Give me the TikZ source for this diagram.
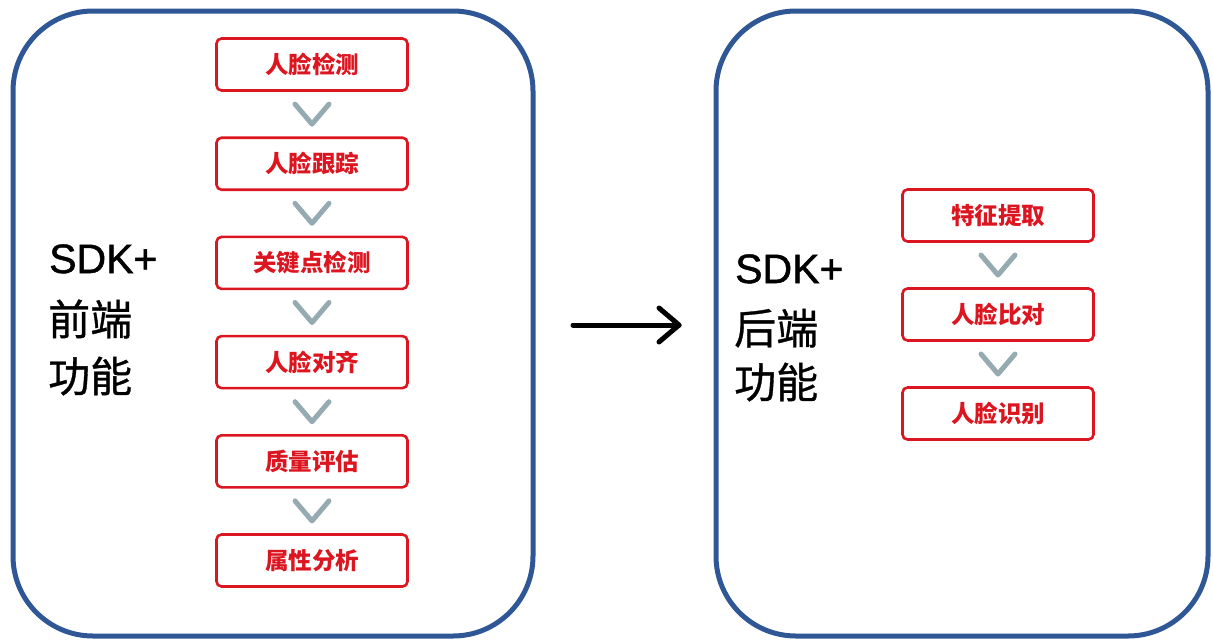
\documentclass[tikz,border=0pt]{standalone}
\usepackage{fontspec}
\usetikzlibrary{calc}
\setmainfont{Noto Sans CJK SC}
\newfontfamily\cjk{Noto Sans CJK SC}
\newfontfamily\cjkbig{Noto Sans CJK SC}[FakeBold=0.8]
\newfontfamily\latbig{Liberation Sans}[FakeBold=1.2]
\definecolor{frameblue}{RGB}{47,87,150}
\definecolor{stepred}{RGB}{220,22,32}
\definecolor{chevgray}{RGB}{150,170,178}
\tikzset{
  bigframe/.style={draw=frameblue, line width=5pt, rounded corners=80pt},
  stepbox/.style={draw=stepred, line width=2.6pt, rounded corners=5pt, minimum width=191pt, minimum height=52pt, inner sep=0pt, font=\cjk\bfseries\fontsize{23.5}{27}\selectfont, text=stepred},
  chev/.style={draw=chevgray, line width=5pt, line cap=round, line join=round},
  bigtext/.style={font=\cjkbig\fontsize{42}{48}\selectfont, anchor=base west, inner sep=0pt},
  sdktext/.style={font=\latbig\fontsize{41}{48}\selectfont, anchor=base west, inner sep=0pt},
}
\begin{document}
\begin{tikzpicture}[x=1pt,y=-1pt]
\useasboundingbox (0,0) rectangle (1213,641);
% frames
\draw[bigframe] (13,11) rectangle (533,636);
\draw[bigframe] (716,11) rectangle (1208,636);
% left steps
\node[stepbox] (l1) at (312,64.5) {人脸检测};
\node[stepbox] (l2) at (312,163.7) {人脸跟踪};
\node[stepbox] (l3) at (312,262.9) {关键点检测};
\node[stepbox] (l4) at (312,362.1) {人脸对齐};
\node[stepbox] (l5) at (312,461.3) {质量评估};
\node[stepbox] (l6) at (312,560.5) {属性分析};
\foreach \a/\b in {l1/l2,l2/l3,l3/l4,l4/l5,l5/l6}{
  \path ($(\a)!0.5!(\b)$) coordinate (m);
  \draw[chev] ([xshift=-17pt,yshift=10pt]m) -- ([yshift=-10pt]m) -- ([xshift=17pt,yshift=10pt]m);
}
% right steps
\node[stepbox] (r1) at (998,215.5) {特征提取};
\node[stepbox] (r2) at (998,314.5) {人脸比对};
\node[stepbox] (r3) at (998,413.5) {人脸识别};
\foreach \a/\b in {r1/r2,r2/r3}{
  \path ($(\a)!0.5!(\b)$) coordinate (m);
  \draw[chev] ([xshift=-17pt,yshift=10pt]m) -- ([yshift=-10pt]m) -- ([xshift=17pt,yshift=10pt]m);
}
% left title
\node[sdktext] (lt1) at (49,273) {SDK+};
\node[bigtext] (lt2) at (48,335) {前端};
\node[bigtext] (lt3) at (48,392) {功能};
% right title
\node[sdktext] (rt1) at (735,283) {SDK+};
\node[bigtext] (rt2) at (734,344) {后端};
\node[bigtext] (rt3) at (734,398) {功能};
% arrow
\coordinate (as) at (573,325);
\coordinate (ae) at (679,325);
\draw[line width=5pt, line cap=round] (as) -- (ae);
\draw[line width=5pt, line cap=round, line join=round] ([xshift=-20pt,yshift=-17pt]ae) -- (ae) -- ([xshift=-20pt,yshift=17pt]ae);
\end{tikzpicture}
\end{document}
